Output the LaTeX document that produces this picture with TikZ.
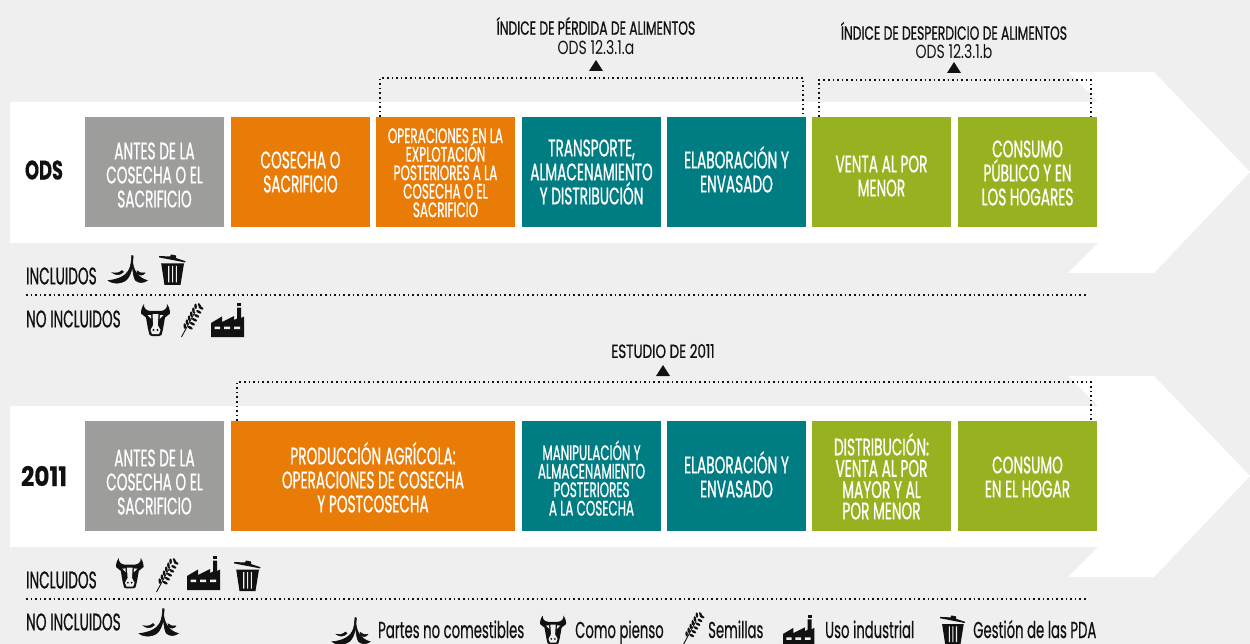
\documentclass[tikz,border=0pt]{standalone}
\usepackage{fontspec}
\setmainfont[FakeStretch=0.74]{Poppins}
\newfontfamily\medf[FakeStretch=0.57,FakeBold=0.8]{Poppins}
\newfontfamily\headf[FakeStretch=0.65,FakeBold=0.7]{Poppins}
\newfontfamily\headw[FakeStretch=0.71,FakeBold=0.7]{Poppins}
\newfontfamily\legf[FakeStretch=0.575,FakeBold=0.4]{Poppins}
\newfontfamily\yrf[FakeStretch=0.66,FakeBold=0.3]{Poppins Bold}
\newfontfamily\yrn[FakeStretch=0.86,FakeBold=0.3]{Poppins Bold}
\definecolor{bgc}{HTML}{EFEFEF}
\definecolor{gr}{HTML}{9D9D9C}
\definecolor{orng}{HTML}{E97B07}
\definecolor{teal2}{HTML}{007C83}
\definecolor{lime}{HTML}{97B221}
\definecolor{ink}{HTML}{111111}
\newcommand\fs[2]{\fontsize{#1}{#2}\selectfont\lineskiplimit=-100pt\lineskip=0pt\relax}
% vertical balancing struts: \T{s} moves the block down by s px, \B / \Bs close a block of big / small caps
\newcommand\T[1]{\rule{0pt}{\dimexpr 24pt+#1pt*2\relax}}
\newcommand\B{\rule[-7.2pt]{0pt}{7.2pt}}
\newcommand\Bs{\rule[-9.3pt]{0pt}{9.3pt}}
\newcommand\icoBanana[3]{\begin{scope}[shift={(#1,#2)},scale=#3]
 \filldraw[ink,line width=0.6pt] (24.8,0.5) -- (24,8) .. controls (23,17) and (17,24) .. (1.3,25.5) .. controls (6,29.5) and (17,29) .. (21,23) .. controls (24,19) and (25.2,13) .. (25.6,8) -- (26.2,1) -- cycle;
 \filldraw[ink,line width=0.6pt] (25.8,8) .. controls (26.5,15) and (31,23) .. (40.3,25.5) .. controls (36,28.5) and (31,28) .. (28.2,25) .. controls (26.5,22) and (26,16) .. (25.3,12) -- cycle;
 \filldraw[ink,line width=0.5pt] (5.3,17.7) .. controls (9,18.5) and (12,18) .. (15,15.5) -- (16.5,17) .. controls (13,20.5) and (9,20.5) .. (5.3,17.7) -- cycle;
 \filldraw[ink,line width=0.5pt] (38,18) .. controls (35,18.5) and (32,17.8) .. (30,15.8) -- (30.3,18.5) .. controls (33,21) and (36,20.5) .. (38,18) -- cycle;
\end{scope}}
\newcommand\icoTrash[3]{\begin{scope}[shift={(#1,#2)},scale=#3]
 \fill[ink] (2.2,9.5) -- (25,9.5) -- (21.5,31) -- (5.5,31) -- cycle;
 \fill[ink] (0,2) -- (11,2.5) -- (12,0.5) -- (17,1.5) -- (17,4) -- (26.5,7.2) -- (26,8.4) -- (0,3.4) -- cycle;
 \fill[bgc] (9.2,12) rectangle (10.3,28.5) (13,12) rectangle (14.1,28.5) (16.8,12) rectangle (17.9,28.5);
\end{scope}}
\newcommand\icoCow[3]{\begin{scope}[shift={(#1,#2)},scale=#3]
 \fill[ink] (3,0) .. controls (2.5,4) and (5,6.5) .. (9,7) -- (20,7) .. controls (24,6.5) and (26.5,4) .. (26,0) .. controls (29,4) and (29,8) .. (29,9.5) -- (24,13.5) -- (22,25) -- (20.5,31) -- (18,32) -- (11,32) -- (8.5,31) -- (7,25) -- (5,13.5) -- (0,9.5) .. controls (0,8) and (0,4) .. (3,0) -- cycle;
 \fill[bgc] (11.5,10) -- (17.5,10) -- (16.8,21) -- (19.5,26) -- (18,30) -- (11,30) -- (9.5,26) -- (12.2,21) -- cycle;
 \fill[bgc] (6.5,11.2) -- (10,11) -- (10.3,15) -- cycle (22.5,11.2) -- (19,11) -- (18.7,15) -- cycle;
 \fill[ink] (12.5,26) circle (1.1) (16.5,26) circle (1.1);
\end{scope}}
\newcommand\icoWheat[3]{\begin{scope}[shift={(#1,#2)},scale=#3]
 \draw[ink,line width=0.9pt] (0.5,34) -- (14,9);
 \foreach \t in {0.30,0.42,0.54,0.66,0.78,0.90}{
  \fill[ink,shift={(1+18*\t-2.6,34-33*\t-1)},rotate=-86] (0,0) ellipse (2.8 and 1.3);
  \fill[ink,shift={(1+18*\t+2.8,34-33*\t+0.6)},rotate=-28] (0,0) ellipse (2.8 and 1.3);
 }
 \fill[ink,shift={(18.5,2.5)},rotate=-60] (0,0) ellipse (2.6 and 1.2);
\end{scope}}
\newcommand\icoFactory[3]{\begin{scope}[shift={(#1,#2)},scale=#3]
 \fill[ink] (26,0) rectangle (30,3.2);
 \fill[ink] (0,20) -- (11,13.5) -- (11,19) -- (23,13) -- (23,17) -- (26,15.5) -- (26,4.6) -- (30,4.6) -- (30,15) -- (33,13.5) -- (33,34) -- (0,34) -- cycle;
 \fill[bgc] (3.5,23.5) rectangle (9,26.2) (13,23.5) rectangle (19,26.2) (23,23.5) rectangle (29,26.2);
\end{scope}}
\tikzset{
 x=1pt,y=-1pt,
 box/.style={inner sep=0pt,minimum height=110pt,align=center,text=white,font=\medf\fs{24}{24}},
 boxw/.style={box,minimum width=139pt},
 smalltxt/.style={font=\medf\fs{21}{18.5}},
 dotline/.style={draw=ink,line width=1.6pt,dash pattern=on 1.6pt off 3pt},
 heading/.style={inner sep=0pt,align=center,text=ink,font=\headf\fs{19}{22}},
 sub/.style={inner sep=0pt,align=center,text=ink,font=\fs{19}{22}},
 lab/.style={inner sep=0pt,anchor=west,text=ink,font=\medf\fs{24}{24}},
 year/.style={inner sep=0pt,text=ink},
 legend/.style={inner sep=0pt,anchor=base west,text=ink,font=\legf\fs{23}{24}},
 arrowband/.style={fill=white},
 tri/.style={fill=ink}
}
\begin{document}
\begin{tikzpicture}
\useasboundingbox (0,0) rectangle (1250,644);
\fill[bgc] (0,0) rectangle (1250,644);
% band arrows
\fill[arrowband] (10,102) -- (1098,102) -- (1068,72) -- (1154,72) -- (1250,172) -- (1154,273) -- (1068,273) -- (1098,243) -- (10,243) -- cycle;
\fill[arrowband] (10,406) -- (1098,406) -- (1068,376) -- (1154,376) -- (1250,476) -- (1154,577) -- (1068,577) -- (1098,547) -- (10,547) -- cycle;
% row ODS
\node[year,font=\yrf\fs{27}{28}] (ods) at (44,170) {ODS};
\node[boxw,fill=gr] (a1) at (154.5,172) {\T{3}ANTES DE LA\\COSECHA O EL\\SACRIFICIO\B};
\node[boxw,fill=orng] (a2) at (300.5,172) {\T{0}COSECHA O\\SACRIFICIO\B};
\node[boxw,fill=orng,smalltxt] (a3) at (445.5,172) {\T{0.8}OPERACIONES EN LA\\EXPLOTACIÓN\\POSTERIORES A LA\\COSECHA O EL\\SACRIFICIO\Bs};
\node[boxw,fill=teal2] (a4) at (591.5,172) {\T{0}TRANSPORTE,\\ALMACENAMIENTO\\Y DISTRIBUCIÓN\B};
\node[boxw,fill=teal2] (a5) at (736.5,172) {\T{0}ELABORACIÓN Y\\ENVASADO\B};
\node[boxw,fill=lime] (a6) at (881.5,172) {\T{4}VENTA AL POR\\MENOR\B};
\node[boxw,fill=lime] (a7) at (1027.5,172) {\T{1}CONSUMO\\PÚBLICO Y EN\\LOS HOGARES\B};
% row 2011
\node[year,font=\yrn\fs{27}{28}] (y2011) at (44,476) {2011};
\node[boxw,fill=gr] (b1) at (154.5,476) {\T{6}ANTES DE LA\\COSECHA O EL\\SACRIFICIO\B};
\node[box,fill=orng,minimum width=284pt] (b2) at (373,476) {\T{4}PRODUCCIÓN AGRÍCOLA:\\OPERACIONES DE COSECHA\\Y POSTCOSECHA\B};
\node[boxw,fill=teal2,smalltxt] (b3) at (591.5,476) {\T{4.5}MANIPULACIÓN Y\\ALMACENAMIENTO\\POSTERIORES\\A LA COSECHA\Bs};
\node[boxw,fill=teal2] (b4) at (736.5,476) {\T{1}ELABORACIÓN Y\\ENVASADO\B};
\node[boxw,fill=lime,font=\medf\fs{24}{21.3}] (b5) at (881.5,476) {\T{3}DISTRIBUCIÓN:\\VENTA AL POR\\MAYOR Y AL\\POR MENOR\B};
\node[boxw,fill=lime] (b6) at (1027.5,476) {\T{1}CONSUMO\\EN EL HOGAR\B};
% headings
\node[heading] (h1) at (596,26) {ÍNDICE DE PÉRDIDA DE ALIMENTOS};
\node[sub] (h1s) at (596,48) {ODS 12.3.1.a};
\node[heading] (h2) at (954,31) {ÍNDICE DE DESPERDICIO DE ALIMENTOS};
\node[sub] (h2s) at (954,52) {ODS 12.3.1.b};
\node[heading,font=\headw\fs{19}{22}] (h3) at (663,351) {ESTUDIO DE 2011};
\fill[tri] (589,71) -- (603,71) -- (596,60) -- cycle;
\fill[tri] (947,73) -- (961,73) -- (954,62) -- cycle;
\fill[tri] (656,376) -- (670,376) -- (663,365) -- cycle;
% brackets
\coordinate (p1a) at (380,117); \coordinate (p1b) at (380,78); \coordinate (p1c) at (803,78); \coordinate (p1d) at (803,117);
\coordinate (p2a) at (819,117); \coordinate (p2b) at (819,80); \coordinate (p2c) at (1091,80); \coordinate (p2d) at (1091,117);
\coordinate (p3a) at (237,421); \coordinate (p3b) at (237,382); \coordinate (p3c) at (1091,382); \coordinate (p3d) at (1091,421);
\draw[dotline] (p1a) -- (p1b) -- (p1c) -- (p1d);
\draw[dotline] (p2a) -- (p2b) -- (p2c) -- (p2d);
\draw[dotline] (p3a) -- (p3b) -- (p3c) -- (p3d);
% labels
\node[lab] (l1) at (26,276) {INCLUIDOS};
\icoBanana{107}{255}{1}
\icoTrash{159}{254}{1}
\coordinate (d1a) at (26,295); \coordinate (d1b) at (1088,295);
\draw[dotline] (d1a) -- (d1b);
\node[lab] (l2) at (26,319) {NO INCLUIDOS};
\icoCow{141}{304}{1}
\icoWheat{181}{303}{1}
\icoFactory{211}{303}{1}
\node[lab] (l3) at (26,580) {INCLUIDOS};
\icoCow{116}{558}{0.95}
\icoWheat{156}{558}{1}
\icoFactory{187}{556}{1}
\icoTrash{234}{560}{1}
\coordinate (d2a) at (26,599); \coordinate (d2b) at (1088,599);
\draw[dotline] (d2a) -- (d2b);
\node[lab] (l4) at (26,622) {NO INCLUIDOS};
\icoBanana{138}{608}{1}
% legend
\icoBanana{331}{617}{0.97}
\node[legend] (t1) at (378,638) {Partes no comestibles};
\icoCow{540}{615.5}{0.9}
\node[legend] (t2) at (575,638) {Como pienso};
\icoWheat{683}{612}{0.95}
\node[legend] (t3) at (708,638) {Semillas};
\icoFactory{783}{615}{0.95}
\node[legend] (t4) at (825,638) {Uso industrial};
\icoTrash{940}{615}{0.95}
\node[legend] (t5) at (973,638) {Gestión de las PDA};
\end{tikzpicture}
\end{document}
